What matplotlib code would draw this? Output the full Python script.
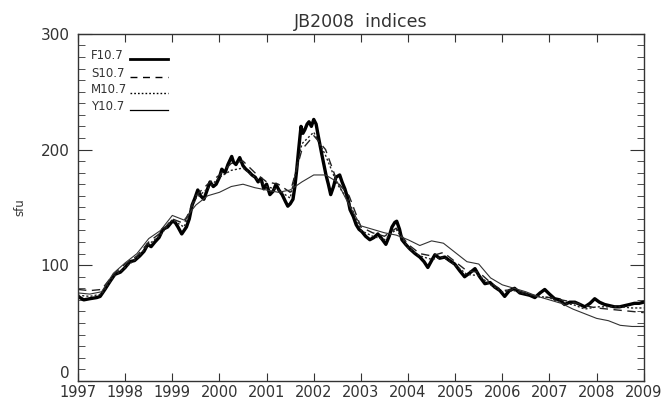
import matplotlib
matplotlib.use('Agg')
import matplotlib.pyplot as plt
from matplotlib.ticker import MultipleLocator

# F10.7 (81-day)
f_years = [1997.00, 1997.12, 1997.25, 1997.40, 1997.47, 1997.57, 1997.68, 1997.78, 1997.90,
           1998.00, 1998.10, 1998.20, 1998.31, 1998.40, 1998.48, 1998.55, 1998.63, 1998.72,
           1998.80, 1998.90, 1999.00, 1999.06, 1999.12, 1999.20, 1999.30, 1999.36, 1999.42,
           1999.48, 1999.54, 1999.60, 1999.67, 1999.74, 1999.80, 1999.87, 1999.93, 2000.00,
           2000.05, 2000.12, 2000.18, 2000.26, 2000.30, 2000.35, 2000.43, 2000.50, 2000.56,
           2000.62, 2000.69, 2000.76, 2000.82, 2000.88, 2000.94, 2001.00, 2001.07, 2001.14,
           2001.20, 2001.26, 2001.33, 2001.40, 2001.45, 2001.50, 2001.56, 2001.60, 2001.64,
           2001.68, 2001.73, 2001.77, 2001.81, 2001.86, 2001.90, 2001.95, 2002.00, 2002.05,
           2002.09, 2002.17, 2002.26, 2002.31, 2002.36, 2002.42, 2002.47, 2002.55, 2002.60,
           2002.66, 2002.72, 2002.77, 2002.84, 2002.90, 2002.96, 2003.02, 2003.10, 2003.19,
           2003.28, 2003.36, 2003.44, 2003.53, 2003.60, 2003.66, 2003.72, 2003.76, 2003.82,
           2003.87, 2003.95, 2004.04, 2004.15, 2004.25, 2004.34, 2004.42, 2004.50, 2004.57,
           2004.67, 2004.78, 2004.88, 2004.99, 2005.10, 2005.20, 2005.30, 2005.42, 2005.52,
           2005.63, 2005.74, 2005.84, 2005.95, 2006.05, 2006.15, 2006.26, 2006.37, 2006.48,
           2006.58, 2006.69, 2006.80, 2006.90, 2007.00, 2007.11, 2007.22, 2007.32, 2007.43,
           2007.54, 2007.65, 2007.75, 2007.86, 2007.96, 2008.06, 2008.17, 2008.28, 2008.38,
           2008.49, 2008.60, 2008.70, 2008.80, 2008.90, 2009.00]
f107 = [73, 70, 71, 72, 73, 79, 86, 92, 94,
        98, 103, 104, 108, 112, 118, 116, 120, 124,
        131, 133, 138, 137, 133, 127, 133, 140, 152,
        158, 165, 160, 157, 165, 172, 168, 170, 176,
        183, 180, 187, 194, 189, 187, 193, 186, 183,
        181, 178, 176, 172, 175, 166, 170, 161, 164,
        170, 165, 161, 155, 151, 153, 157, 168, 183,
        200, 220, 214, 217, 222, 224, 220, 226, 222,
        213, 196, 178, 170, 161, 168, 176, 178, 172,
        166, 158, 148, 142, 135, 131, 129, 125, 122,
        124, 127, 123, 118, 125, 133, 137, 138, 131,
        122, 118, 114, 110, 107, 103, 98, 104, 109,
        106, 107, 104, 101, 95, 90, 93, 97, 90,
        84, 85, 81, 78, 73, 78, 80, 76, 75,
        74, 72, 76, 79, 75, 71, 70, 66, 68,
        68, 66, 64, 67, 71, 68, 66, 65, 64,
        64, 65, 66, 67, 67, 68]

# S10.7, M10.7, Y10.7 on a quarter-year grid
q_years = [1997.00, 1997.25, 1997.50, 1997.75, 1998.00, 1998.25, 1998.50, 1998.75,
           1999.00, 1999.25, 1999.50, 1999.75, 2000.00, 2000.25, 2000.50, 2000.75,
           2001.00, 2001.25, 2001.50, 2001.75, 2002.00, 2002.25, 2002.50, 2002.75,
           2003.00, 2003.25, 2003.50, 2003.75, 2004.00, 2004.25, 2004.50, 2004.75,
           2005.00, 2005.25, 2005.50, 2005.75, 2006.00, 2006.25, 2006.50, 2006.75,
           2007.00, 2007.25, 2007.50, 2007.75, 2008.00, 2008.25, 2008.50, 2008.75,
           2009.00]
s107 = [79, 78, 79, 92, 101, 108, 120, 128,
        140, 136, 160, 170, 178, 188, 190, 180,
        172, 170, 163, 200, 212, 200, 172, 160,
        133, 128, 125, 132, 118, 110, 108, 111,
        103, 95, 94, 85, 78, 79, 76, 73,
        72, 70, 68, 65, 63, 62, 61, 60,
        59]
m107 = [74, 73, 75, 90, 98, 106, 118, 126,
        139, 133, 158, 166, 176, 182, 184, 176,
        168, 165, 158, 205, 215, 195, 170, 155,
        130, 125, 122, 131, 115, 108, 105, 107,
        100, 92, 91, 83, 77, 78, 75, 73,
        72, 67, 66, 62, 64, 64, 64, 63,
        63]
y107 = [76, 75, 77, 93, 102, 110, 123, 130,
        143, 139, 152, 160, 163, 168, 170, 167,
        165, 163, 165, 172, 178, 178, 172, 152,
        134, 131, 128, 126, 122, 117, 121, 119,
        111, 103, 101, 89, 83, 80, 77, 73,
        70, 67, 62, 58, 54, 52, 48, 47,
        47]

year_ticks = list(range(1997, 2010))
sfu_ticks = [0, 100, 200, 300]

fig = plt.figure(figsize=(6.64, 4.03), dpi=100)
ax = fig.add_axes([0.1175, 0.055, 0.852, 0.861])

ax.plot(f_years, f107, color='black', lw=2.4, label='F10.7')
ax.plot(q_years, s107, color='#222222', lw=1.0, dashes=(6, 4), label='S10.7')
ax.plot(q_years, m107, color='#222222', lw=1.0, dashes=(1.5, 1.5), label='M10.7')
ax.plot(q_years, y107, color='#333333', lw=0.8, label='Y10.7')

ax.set_xlim(1997, 2009)
ax.set_ylim(0, 300)
ax.set_xticks(year_ticks)
ax.set_xticklabels([str(y) for y in year_ticks])
ax.set_yticks(sfu_ticks)
ax.set_yticklabels([str(v) for v in sfu_ticks])
ax.yaxis.set_minor_locator(MultipleLocator(10))
ax.tick_params(axis='x', which='major', direction='in', length=6, top=True,
               labelsize=10.5, pad=3, colors='#333333')
ax.tick_params(axis='y', which='major', direction='in', length=10, right=True,
               labelsize=11, pad=6, colors='#333333')
ax.tick_params(axis='y', which='minor', direction='in', length=5, right=True,
               colors='#333333')
for sp in ax.spines.values():
    sp.set_color('#333333')
    sp.set_linewidth(1.0)

# the "0" sits a little above the axis so it clears the first year label
fig.canvas.draw()
ax.yaxis.get_major_ticks()[0].label1.set_va('bottom')

ax.set_title('JB2008  indices', fontsize=12.5, color='#333333', pad=5)
ax.set_ylabel('sfu', fontsize=8.5, color='#333333', labelpad=10)

# legend drawn like the IDL original: label, then a line sample
leg_y = [278, 263, 249, 234]
leg_lw = [2.0, 1.0, 1.0, 0.9]
leg_dash = [None, (5, 4), (1.2, 1.5), None]
for i, name in enumerate(['F10.7', 'S10.7', 'M10.7', 'Y10.7']):
    ax.text(1997.28, leg_y[i], name, fontsize=8.5, color='#333333', va='baseline')
    ln, = ax.plot([1998.10, 1998.90], [leg_y[i], leg_y[i]], color='black', lw=leg_lw[i])
    if leg_dash[i] is not None:
        ln.set_dashes(leg_dash[i])

fig.savefig('out.png', dpi=100)
